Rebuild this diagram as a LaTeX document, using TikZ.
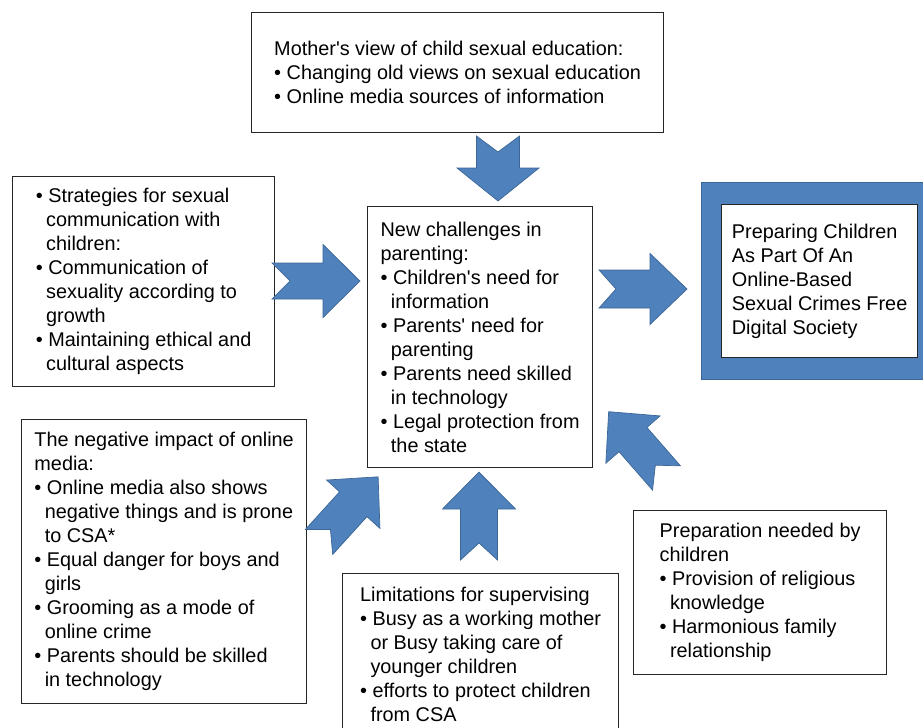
\documentclass[tikz,border=0pt]{standalone}
\usepackage{fontspec}
\setmainfont{Liberation Sans}
\definecolor{arrowblue}{HTML}{4F81BD}
\definecolor{arrowedge}{HTML}{3C6696}
\newcommand{\bgap}{\hspace*{0.52em}}
\newcommand{\aps}{\textquotesingle}
\tikzset{
    box/.style={draw=black!85, line width=0.7pt, fill=white, align=left,
        anchor=north west, inner sep=0pt,
        font=\fontsize{11.3}{13.66}\selectfont},
    pics/chevron/.style n args={5}{code={
        \filldraw[fill=arrowblue, draw=arrowedge, line width=0.4pt]
            (0,#4) -- (#1-#2,#4) -- (#1-#2,#3) -- (#1,0) -- (#1-#2,-#3)
            -- (#1-#2,-#4) -- (0,-#4) -- (#5,0) -- cycle;
    }}
}
\begin{document}
\begin{tikzpicture}[x=0.02cm, y=-0.02cm]
        \clip (0,0) rectangle (923,727);
        %% Boxes
        \node[box, minimum width=412*0.02cm, minimum height=120*0.02cm]
            (view) at (251,12) {Mother\aps s view of child sexual education:\\
            • Changing old views on sexual education\\
            • Online media sources of information};
        \node[box, minimum width=262*0.02cm, minimum height=210*0.02cm]
            (strat) at (12,176) {• Strategies for sexual\\
            \bgap communication with\\ \bgap children:\\
            • Communication of\\ \bgap sexuality according to\\ \bgap growth\\
            • Maintaining ethical and\\ \bgap cultural aspects};
        \node[box, minimum width=225*0.02cm, minimum height=261*0.02cm]
            (chal) at (367,206) {New challenges in\\ parenting:\\
            • Children\aps s need for\\ \bgap information\\
            • Parents\aps{} need for\\ \bgap parenting\\
            • Parents need skilled\\ \bgap in technology\\
            • Legal protection from\\ \bgap the state};
        \node[box, fill=arrowblue, draw=arrowedge, line width=0.4pt,
            minimum width=236*0.02cm, minimum height=197*0.02cm]
            (goalframe) at (701,182) {};
        \node[box, minimum width=196*0.02cm, minimum height=153*0.02cm]
            (goal) at (721,204) {Preparing Children\\ As Part Of An\\
            Online-Based\\ Sexual Crimes Free\\ Digital Society};
        \node[box, minimum width=285*0.02cm, minimum height=284*0.02cm]
            (impact) at (21,419) {The negative impact of online\\ media:\\
            • Online media also shows\\ \bgap negative things and is prone\\
            \bgap to CSA*\\
            • Equal danger for boys and\\ \bgap girls\\
            • Grooming as a mode of\\ \bgap online crime\\
            • Parents should be skilled\\ \bgap in technology};
        \node[box, minimum width=276*0.02cm, minimum height=162*0.02cm]
            (limit) at (342,573) {Limitations for supervising\\
            • Busy as a working mother\\ \bgap or Busy taking care of\\
            \bgap younger children\\
            • efforts to protect children\\ \bgap from CSA};
        \node[box, minimum width=253*0.02cm, minimum height=164*0.02cm]
            (prep) at (633,510) {Preparation needed by\\ children\\
            • Provision of religious\\ \bgap knowledge\\
            • Harmonious family\\ \bgap relationship};
        %% Arrows
        \pic[rotate=-90] at (498,136) {chevron={65}{33}{41}{21.5}{16}};
        \pic at (272,281) {chevron={88}{37}{36.5}{18}{18}};
        \pic at (599,289) {chevron={88}{37}{35.5}{19}{17}};
        \pic[rotate=90] at (479,560) {chevron={88}{37}{36.5}{18.5}{17}};
        \pic[rotate=47.8] at (319,542) {chevron={88}{37}{36}{18.5}{17}};
        \pic[rotate=131.1] at (666.5,478) {chevron={88}{37}{36}{18.5}{17}};
    \end{tikzpicture}
\end{document}
